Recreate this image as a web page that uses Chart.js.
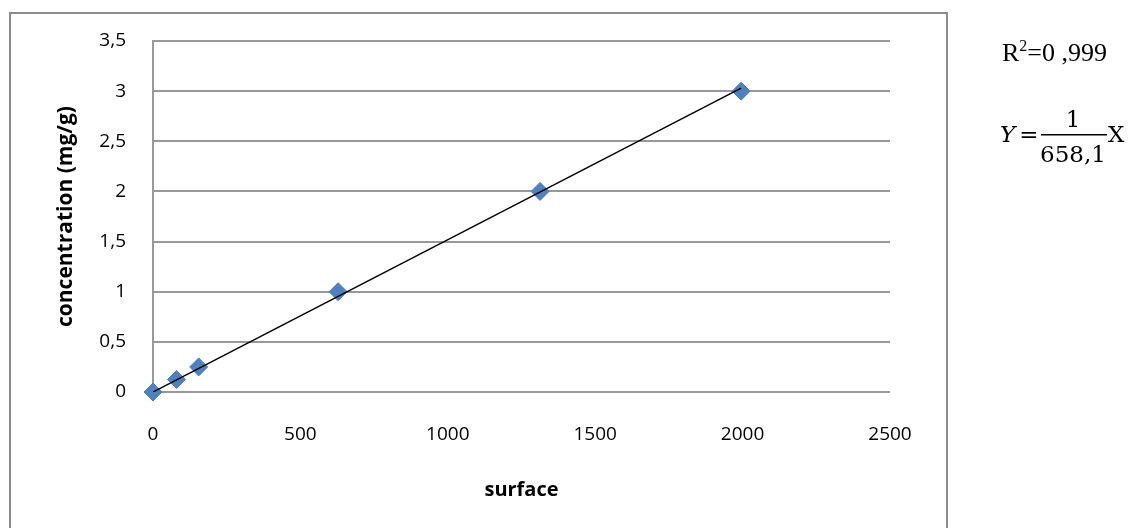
<!DOCTYPE html>
<html>
<head>
<meta charset="utf-8">
<script src="https://cdn.jsdelivr.net/npm/chart.js@4.4.0/dist/chart.umd.min.js"></script>
<style>
  body { margin: 0; background: #fff; }
  canvas { display: block; }
</style>
</head>
<body>
<canvas id="mycanvas" width="1133" height="528"></canvas>
<script>
// surface (x) vs concentration mg/g (y)
var surface = [0, 80, 155, 628, 1313, 1995];
var concentration = [0, 0.125, 0.25, 1, 2, 3];
// trendline endpoints, Y = X / 658,1
var trendX = [0, 1995];
var trendY = [0, 3.03];
var yTicks = ['0', '0,5', '1', '1,5', '2', '2,5', '3', '3,5'];
var xTicks = ['0', '500', '1000', '1500', '2000', '2500'];

var points = [];
for (var i in surface) {
  points.push({x: surface[i], y: concentration[i]});
}
var trend = [];
for (var j in trendX) {
  trend.push({x: trendX[j], y: trendY[j]});
}

// frame + R2 / equation text on the right
var extras = {
  id: 'extras',
  beforeDraw: function(chart) {
    var ctx = chart.ctx;
    ctx.save();
    ctx.strokeStyle = '#8c8c8c';
    ctx.lineWidth = 2;
    ctx.beginPath();
    ctx.moveTo(10, 540);
    ctx.lineTo(10, 13);
    ctx.lineTo(947, 13);
    ctx.lineTo(947, 540);
    ctx.stroke();
    ctx.restore();
  },
  afterDraw: function(chart) {
    var ctx = chart.ctx;
    ctx.save();
    ctx.fillStyle = '#000';
    ctx.textBaseline = 'alphabetic';
    ctx.textAlign = 'left';

    // R2=0 ,999
    var x = 1002;
    ctx.font = '26px "Liberation Serif"';
    ctx.fillText('R', x, 61);
    x += ctx.measureText('R').width;
    ctx.font = '16px "Liberation Serif"';
    ctx.fillText('2', x, 51);
    x += ctx.measureText('2').width;
    ctx.font = '26px "Liberation Serif"';
    ctx.fillText('=0 ,999', x, 61);

    // Y = 1/658,1 X
    ctx.font = 'italic 23px "DejaVu Serif"';
    ctx.fillText('Y', 1000, 142);
    ctx.font = '23px "DejaVu Serif"';
    ctx.textAlign = 'center';
    ctx.fillText('=', 1029, 142);
    ctx.fillText('1', 1073, 127);
    ctx.fillText('658,1', 1073, 162);
    ctx.textAlign = 'left';
    ctx.fillText('X', 1108, 142);
    ctx.fillRect(1041, 134, 66, 1.5);
    ctx.restore();
  }
};

var ctx = document.getElementById('mycanvas');

var Graph = new Chart(ctx, {
  type: 'scatter',
  data: {
    datasets: [
      {
        type: 'line',
        label: 'trend',
        data: trend,
        borderColor: '#000',
        borderWidth: 1.5,
        pointRadius: 0,
        fill: false
      },
      {
        label: 'concentration',
        data: points,
        clip: false,
        pointStyle: 'rectRot',
        pointRadius: 9,
        pointHoverRadius: 9,
        backgroundColor: '#4F81BD',
        borderColor: '#4A7EBB',
        borderWidth: 1
      }
    ]
  },
  options: {
    responsive: false,
    animation: false,
    layout: { padding: { left: 0, top: 41, right: 243, bottom: 0 } },
    plugins: {
      legend: { display: false },
      tooltip: { enabled: false }
    },
    scales: {
      x: {
        type: 'linear',
        min: 0,
        max: 2500,
        afterFit: function(scale) { scale.height = 136; },
        afterBuildTicks: function(scale) {
          scale.ticks = xTicks.map(function(t) { return {value: Number(t)}; });
        },
        ticks: {
          padding: 31,
          color: '#000',
          font: { family: 'Open Sans', size: 19 },
          callback: function(v, idx) { return xTicks[idx]; }
        },
        grid: { display: false, drawTicks: false },
        border: { display: false },
        title: {
          display: true,
          text: 'surface',
          color: '#000',
          font: { family: 'Open Sans', size: 20, weight: 'bold' },
          padding: { top: 0, bottom: 26 }
        }
      },
      y: {
        type: 'linear',
        min: 0,
        max: 3.5,
        afterFit: function(scale) { scale.width = 153; },
        afterBuildTicks: function(scale) {
          scale.ticks = yTicks.map(function(t) { return {value: Number(t.replace(',', '.'))}; });
        },
        ticks: {
          padding: 27,
          color: '#000',
          font: { family: 'Open Sans', size: 19 },
          callback: function(v, idx) { return yTicks[idx]; }
        },
        grid: { color: '#999', lineWidth: 2, drawTicks: false },
        border: { display: true, color: '#999', width: 2 },
        title: {
          display: true,
          text: 'concentration (mg/g)',
          color: '#000',
          font: { family: 'Open Sans', size: 21, weight: 'bold' },
          padding: { top: 53, bottom: 0 }
        }
      }
    }
  },
  plugins: [extras]
});
</script>
</body>
</html>
